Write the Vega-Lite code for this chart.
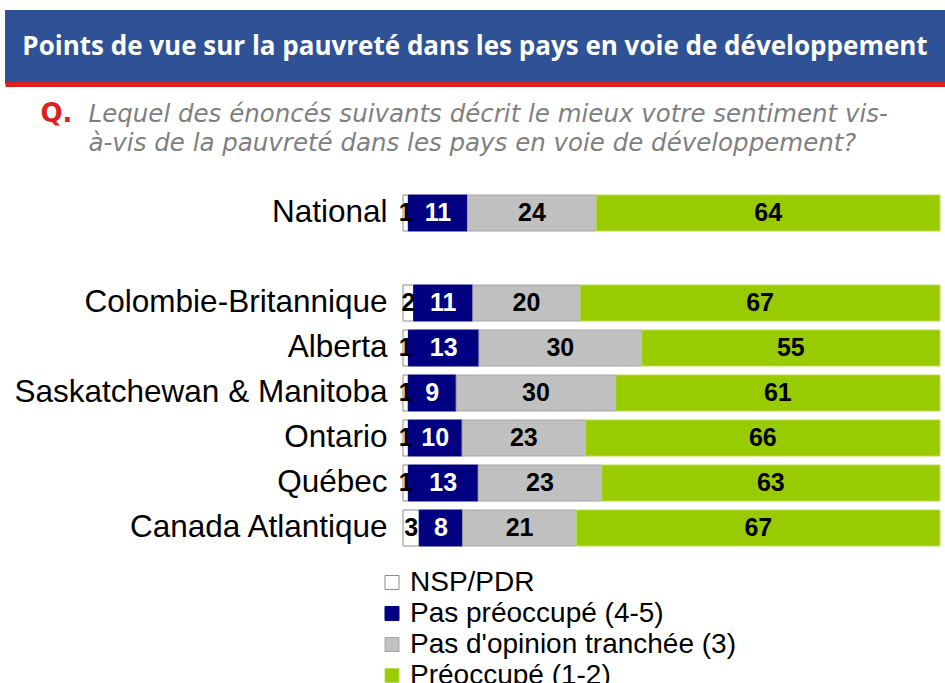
{
  "$schema": "https://vega.github.io/schema/vega-lite/v6.json",
  "padding": {"left": 5, "top": 10, "right": 0, "bottom": 0},
  "background": "white",
  "spacing": 15.5,
  "columns": 1,
  "resolve": {"legend": {"fill": "independent", "stroke": "independent"}, "scale": {"x": "independent", "y": "independent"}},
  "config": {"view": {"stroke": null}},
  "concat": [
    {
      "width": 940,
      "height": 74,
      "view": {"fill": "#2F5296", "stroke": null},
      "data": {"values": [{"titre": "Points de vue sur la pauvreté dans les pays en voie de développement"}]},
      "mark": {"type": "text", "color": "white", "font": "Open Sans", "fontWeight": "bold", "fontSize": 26, "align": "center", "baseline": "middle"},
      "encoding": {
        "x": {"datum": 0.5, "type": "quantitative", "scale": {"domain": [0, 1], "nice": false}, "axis": {"domainColor": "#DC1F1F", "domainWidth": 5, "ticks": false, "labels": false, "grid": false, "title": null}},
        "y": {"datum": 0.5, "type": "quantitative", "scale": {"domain": [0, 1], "nice": false}, "axis": null},
        "text": {"field": "titre"}
      }
    },
    {
      "width": 935,
      "height": 360,
      "data": {"values": [
        {"region": "National", "cat": "NSP/PDR", "v": 1},
        {"region": "National", "cat": "Pas préoccupé (4-5)", "v": 11},
        {"region": "National", "cat": "Pas d'opinion tranchée (3)", "v": 24},
        {"region": "National", "cat": "Préoccupé (1-2)", "v": 64},
        {"region": "Colombie-Britannique", "cat": "NSP/PDR", "v": 2},
        {"region": "Colombie-Britannique", "cat": "Pas préoccupé (4-5)", "v": 11},
        {"region": "Colombie-Britannique", "cat": "Pas d'opinion tranchée (3)", "v": 20},
        {"region": "Colombie-Britannique", "cat": "Préoccupé (1-2)", "v": 67},
        {"region": "Alberta", "cat": "NSP/PDR", "v": 1},
        {"region": "Alberta", "cat": "Pas préoccupé (4-5)", "v": 13},
        {"region": "Alberta", "cat": "Pas d'opinion tranchée (3)", "v": 30},
        {"region": "Alberta", "cat": "Préoccupé (1-2)", "v": 55},
        {"region": "Saskatchewan & Manitoba", "cat": "NSP/PDR", "v": 1},
        {"region": "Saskatchewan & Manitoba", "cat": "Pas préoccupé (4-5)", "v": 9},
        {"region": "Saskatchewan & Manitoba", "cat": "Pas d'opinion tranchée (3)", "v": 30},
        {"region": "Saskatchewan & Manitoba", "cat": "Préoccupé (1-2)", "v": 61},
        {"region": "Ontario", "cat": "NSP/PDR", "v": 1},
        {"region": "Ontario", "cat": "Pas préoccupé (4-5)", "v": 10},
        {"region": "Ontario", "cat": "Pas d'opinion tranchée (3)", "v": 23},
        {"region": "Ontario", "cat": "Préoccupé (1-2)", "v": 66},
        {"region": "Québec", "cat": "NSP/PDR", "v": 1},
        {"region": "Québec", "cat": "Pas préoccupé (4-5)", "v": 13},
        {"region": "Québec", "cat": "Pas d'opinion tranchée (3)", "v": 23},
        {"region": "Québec", "cat": "Préoccupé (1-2)", "v": 63},
        {"region": "Canada Atlantique", "cat": "NSP/PDR", "v": 3},
        {"region": "Canada Atlantique", "cat": "Pas préoccupé (4-5)", "v": 8},
        {"region": "Canada Atlantique", "cat": "Pas d'opinion tranchée (3)", "v": 21},
        {"region": "Canada Atlantique", "cat": "Préoccupé (1-2)", "v": 67}
      ]},
      "transform": [
        {"calculate": "indexof([\"NSP/PDR\", \"Pas préoccupé (4-5)\", \"Pas d'opinion tranchée (3)\", \"Préoccupé (1-2)\"], datum.cat)", "as": "k"},
        {"stack": "v", "groupby": ["region"], "sort": [{"field": "k", "order": "ascending"}], "offset": "normalize", "as": ["v0", "v1"]},
        {"calculate": "(datum.v0 + datum.v1) / 2", "as": "mid"}
      ],
      "encoding": {
        "y": {
          "field": "region", "type": "nominal",
          "scale": {"domain": ["National", " ", "Colombie-Britannique", "Alberta", "Saskatchewan & Manitoba", "Ontario", "Québec", "Canada Atlantique"], "paddingInner": 0.2, "paddingOuter": 0.1},
          "axis": {
            "offset": -398,
            "title": "Q.", "titleAngle": 0, "titleAlign": "left", "titleBaseline": "alphabetic",
            "titleX": -363, "titleY": -69.5, "titleColor": "#DC1F1F", "titleFont": "DejaVu Sans",
            "titleFontSize": 26, "titleFontWeight": "bold",
            "domain": false, "ticks": false, "grid": false,
            "labelFont": "Liberation Sans", "labelFontSize": 31.5, "labelColor": "black",
            "labelPadding": 16, "labelLimit": 600
          }
        }
      },
      "layer": [
        {
          "mark": {"type": "bar", "strokeWidth": 1},
          "encoding": {
            "x": {
              "field": "v0", "type": "quantitative", "scale": {"domain": [-0.741155, 1], "nice": false, "zero": false},
              "axis": {
                "orient": "top", "labels": false, "ticks": false, "domain": false, "grid": false,
                "title": ["Lequel des énoncés suivants décrit le mieux votre sentiment vis-", "à-vis de la pauvreté dans les pays en voie de développement?"],
                "titleX": 83, "titleY": -69.5, "titleAlign": "left", "titleAnchor": "start",
                "titleBaseline": "alphabetic", "titleAngle": 0, "titleFont": "DejaVu Sans",
                "titleFontSize": 24.5, "titleFontStyle": "italic", "titleFontWeight": "normal",
                "titleColor": "#7F7F7F", "titleLineHeight": 29, "titleLimit": 1000
              }
            },
            "x2": {"field": "v1"},
            "fill": {
              "field": "cat", "type": "nominal",
              "scale": {"domain": ["NSP/PDR", "Pas préoccupé (4-5)", "Pas d'opinion tranchée (3)", "Préoccupé (1-2)"], "range": ["#FFFFFF", "#000080", "#C0C0C0", "#99CC00"]},
              "legend": {"orient": "none", "legendX": 373, "legendY": 378, "direction": "vertical", "title": null, "labelFont": "Liberation Sans", "labelFontSize": 28, "labelColor": "black", "symbolType": "square", "symbolSize": 196, "symbolStrokeWidth": 1, "rowPadding": 3, "labelOffset": 4, "padding": 0, "labelLimit": 600}
            },
            "stroke": {
              "field": "cat", "type": "nominal",
              "scale": {"domain": ["NSP/PDR", "Pas préoccupé (4-5)", "Pas d'opinion tranchée (3)", "Préoccupé (1-2)"], "range": ["#8C8C8C", "#000080", "#A6A6A6", "#B8DC55"]},
              "legend": {"orient": "none", "legendX": 373, "legendY": 378, "direction": "vertical", "title": null, "labelFont": "Liberation Sans", "labelFontSize": 28, "labelColor": "black", "symbolType": "square", "symbolSize": 196, "symbolStrokeWidth": 1, "rowPadding": 3, "labelOffset": 4, "padding": 0, "labelLimit": 600}
            }
          }
        },
        {
          "mark": {"type": "text", "font": "Liberation Sans", "fontWeight": "bold", "fontSize": 25, "baseline": "middle", "align": "center"},
          "encoding": {
            "x": {
              "field": "mid", "type": "quantitative",
              "axis": {
                "orient": "top", "labels": false, "ticks": false, "domain": false, "grid": false,
                "title": ["Lequel des énoncés suivants décrit le mieux votre sentiment vis-", "à-vis de la pauvreté dans les pays en voie de développement?"],
                "titleX": 83, "titleY": -69.5, "titleAlign": "left", "titleAnchor": "start",
                "titleBaseline": "alphabetic", "titleAngle": 0, "titleFont": "DejaVu Sans",
                "titleFontSize": 24.5, "titleFontStyle": "italic", "titleFontWeight": "normal",
                "titleColor": "#7F7F7F", "titleLineHeight": 29, "titleLimit": 1000
              }
            },
            "text": {"field": "v", "type": "quantitative"},
            "color": {"condition": {"test": "datum.cat === 'Pas préoccupé (4-5)'", "value": "white"}, "value": "black"}
          }
        }
      ]
    }
  ]
}
